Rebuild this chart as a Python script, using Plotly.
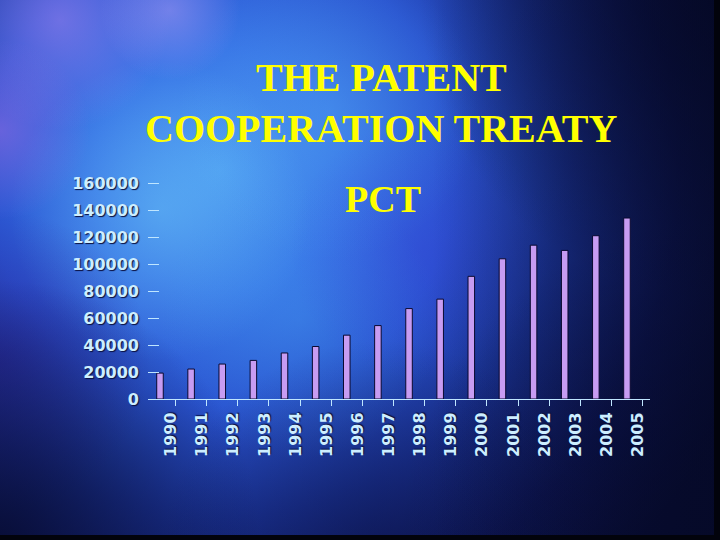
import base64
import plotly.graph_objects as go

years = ["1990", "1991", "1992", "1993", "1994", "1995", "1996", "1997",
         "1998", "1999", "2000", "2001", "2002", "2003", "2004", "2005"]
applications = [19200, 22200, 25900, 28600, 34100, 38900, 47300, 54400,
                67000, 74000, 90900, 103900, 114000, 110100, 121000, 134100]
y_ticks = [0, 20000, 40000, 60000, 80000, 100000, 120000, 140000, 160000]

W, H = 720, 540
L, R, T, B = 148, 70, 182, 141
PW, PH = W - L - R, H - T - B


def radial(gid, cx, cy, r, color, op):
    return (f'<radialGradient id="{gid}" cx="{cx}" cy="{cy}" r="{r}" gradientUnits="userSpaceOnUse">'
            f'<stop offset="0" stop-color="{color}" stop-opacity="{op}"/>'
            f'<stop offset="1" stop-color="{color}" stop-opacity="0"/></radialGradient>')


glows = [
    ("g1", 160, 210, 150, "#74d6fa", 0.4),
    ("g2", 330, 110, 150, "#5ab8f6", 0.3),
    ("g3", 60, 20, 110, "#b088f4", 0.5),
    ("g4", 170, 10, 70, "#c0a0f8", 0.45),
    ("g5", 0, 130, 90, "#b070e8", 0.45),
    ("g6", 0, 360, 150, "#2c1c90", 0.55),
    ("g7", 300, 320, 140, "#46a6f2", 0.3),
    ("g8", 0, 540, 260, "#070b30", 0.85),
    ("g9", 380, 560, 220, "#0a1040", 0.55),
    ("g10", 720, 0, 300, "#050828", 0.7),
    ("g11", 720, 540, 320, "#060a30", 0.6),
    ("g12", 420, 250, 130, "#3a3ad8", 0.3),
]

defs = "".join(radial(*g) for g in glows)
rects = "".join(f'<rect width="{W}" height="{H}" fill="url(#{g[0]})"/>' for g in glows)

svg = f'''<svg xmlns="http://www.w3.org/2000/svg" width="{W}" height="{H}" viewBox="0 0 {W} {H}">
<defs>
<radialGradient id="main" cx="220" cy="170" r="560" gradientUnits="userSpaceOnUse">
<stop offset="0" stop-color="#4a96f0"/>
<stop offset="0.22" stop-color="#3874e6"/>
<stop offset="0.42" stop-color="#2a54d0"/>
<stop offset="0.62" stop-color="#1a3294"/>
<stop offset="0.82" stop-color="#0f185c"/>
<stop offset="1" stop-color="#0a0e3c"/>
</radialGradient>
<linearGradient id="right" x1="0" y1="0" x2="1" y2="0">
<stop offset="0.6" stop-color="#040820" stop-opacity="0"/>
<stop offset="1" stop-color="#040820" stop-opacity="0.6"/>
</linearGradient>
{defs}
</defs>
<rect width="{W}" height="{H}" fill="url(#main)"/>
{rects}
<rect width="{W}" height="{H}" fill="url(#right)"/>
<rect x="714" y="0" width="6" height="{H}" fill="#02030c"/>
<rect x="0" y="535" width="{W}" height="5" fill="#02030c"/>
</svg>'''
bg_uri = "data:image/svg+xml;base64," + base64.b64encode(svg.encode()).decode()

label_color = "#cdeeff"
shadow = "1px 1px 1px #0a1040"

fig = go.Figure()
fig.add_trace(go.Bar(
    x=years, y=applications, width=0.21,
    marker=dict(color="#c79cf2", line=dict(color="#0a0a30", width=1)),
    hoverinfo="x+y",
))


def px_x(p):
    return (p - L) / PW


def px_y(p):
    return (H - B - p) / PH


title_font = dict(family="Liberation Serif", size=40, color="#ffff00", weight="bold")
fig.add_annotation(text="THE PATENT", x=px_x(381), y=px_y(77), xref="paper", yref="paper",
                   showarrow=False, font=title_font, xanchor="center", yanchor="middle")
fig.add_annotation(text="COOPERATION TREATY", x=px_x(381), y=px_y(128), xref="paper", yref="paper",
                   showarrow=False, font=title_font, xanchor="center", yanchor="middle")
fig.add_annotation(text="PCT", x=px_x(383), y=px_y(199), xref="paper", yref="paper",
                   showarrow=False, font=dict(family="Liberation Serif", size=38, color="#ffff00", weight="bold"),
                   xanchor="center", yanchor="middle")

fig.update_layout(
    width=W, height=H, autosize=False,
    margin=dict(l=L, r=R, t=T, b=B, pad=0),
    paper_bgcolor="#1c34a0",
    plot_bgcolor="rgba(0,0,0,0)",
    showlegend=False,
    images=[dict(source=bg_uri, xref="paper", yref="paper",
                 x=-L / PW, y=1 + T / PH, sizex=W / PW, sizey=H / PH,
                 xanchor="left", yanchor="top", sizing="stretch", layer="below")],
    xaxis=dict(
        type="category", range=[-0.385, 15.74],
        showgrid=False, zeroline=False,
        showline=True, linecolor="#bfe6ff", linewidth=1,
        ticks="outside", ticklen=6, tickcolor="#bfe6ff", tickson="boundaries",
        tickangle=-90, ticklabelshift=11, ticklabelstandoff=6,
        tickfont=dict(family="DejaVu Sans", size=16, color=label_color, weight="bold", shadow=shadow),
    ),
    yaxis=dict(
        range=[0, 160800], tickvals=y_ticks, ticktext=[str(v) for v in y_ticks],
        showgrid=False, zeroline=False, showline=False,
        ticks="inside", ticklen=11, tickcolor="#bfe6ff", tickwidth=1,
        ticklabelstandoff=8,
        tickfont=dict(family="DejaVu Sans", size=16, color=label_color, weight="bold", shadow=shadow),
    ),
)

fig.write_html("out.html", config={"displayModeBar": False},
               post_script="document.body.style.margin='0';")
